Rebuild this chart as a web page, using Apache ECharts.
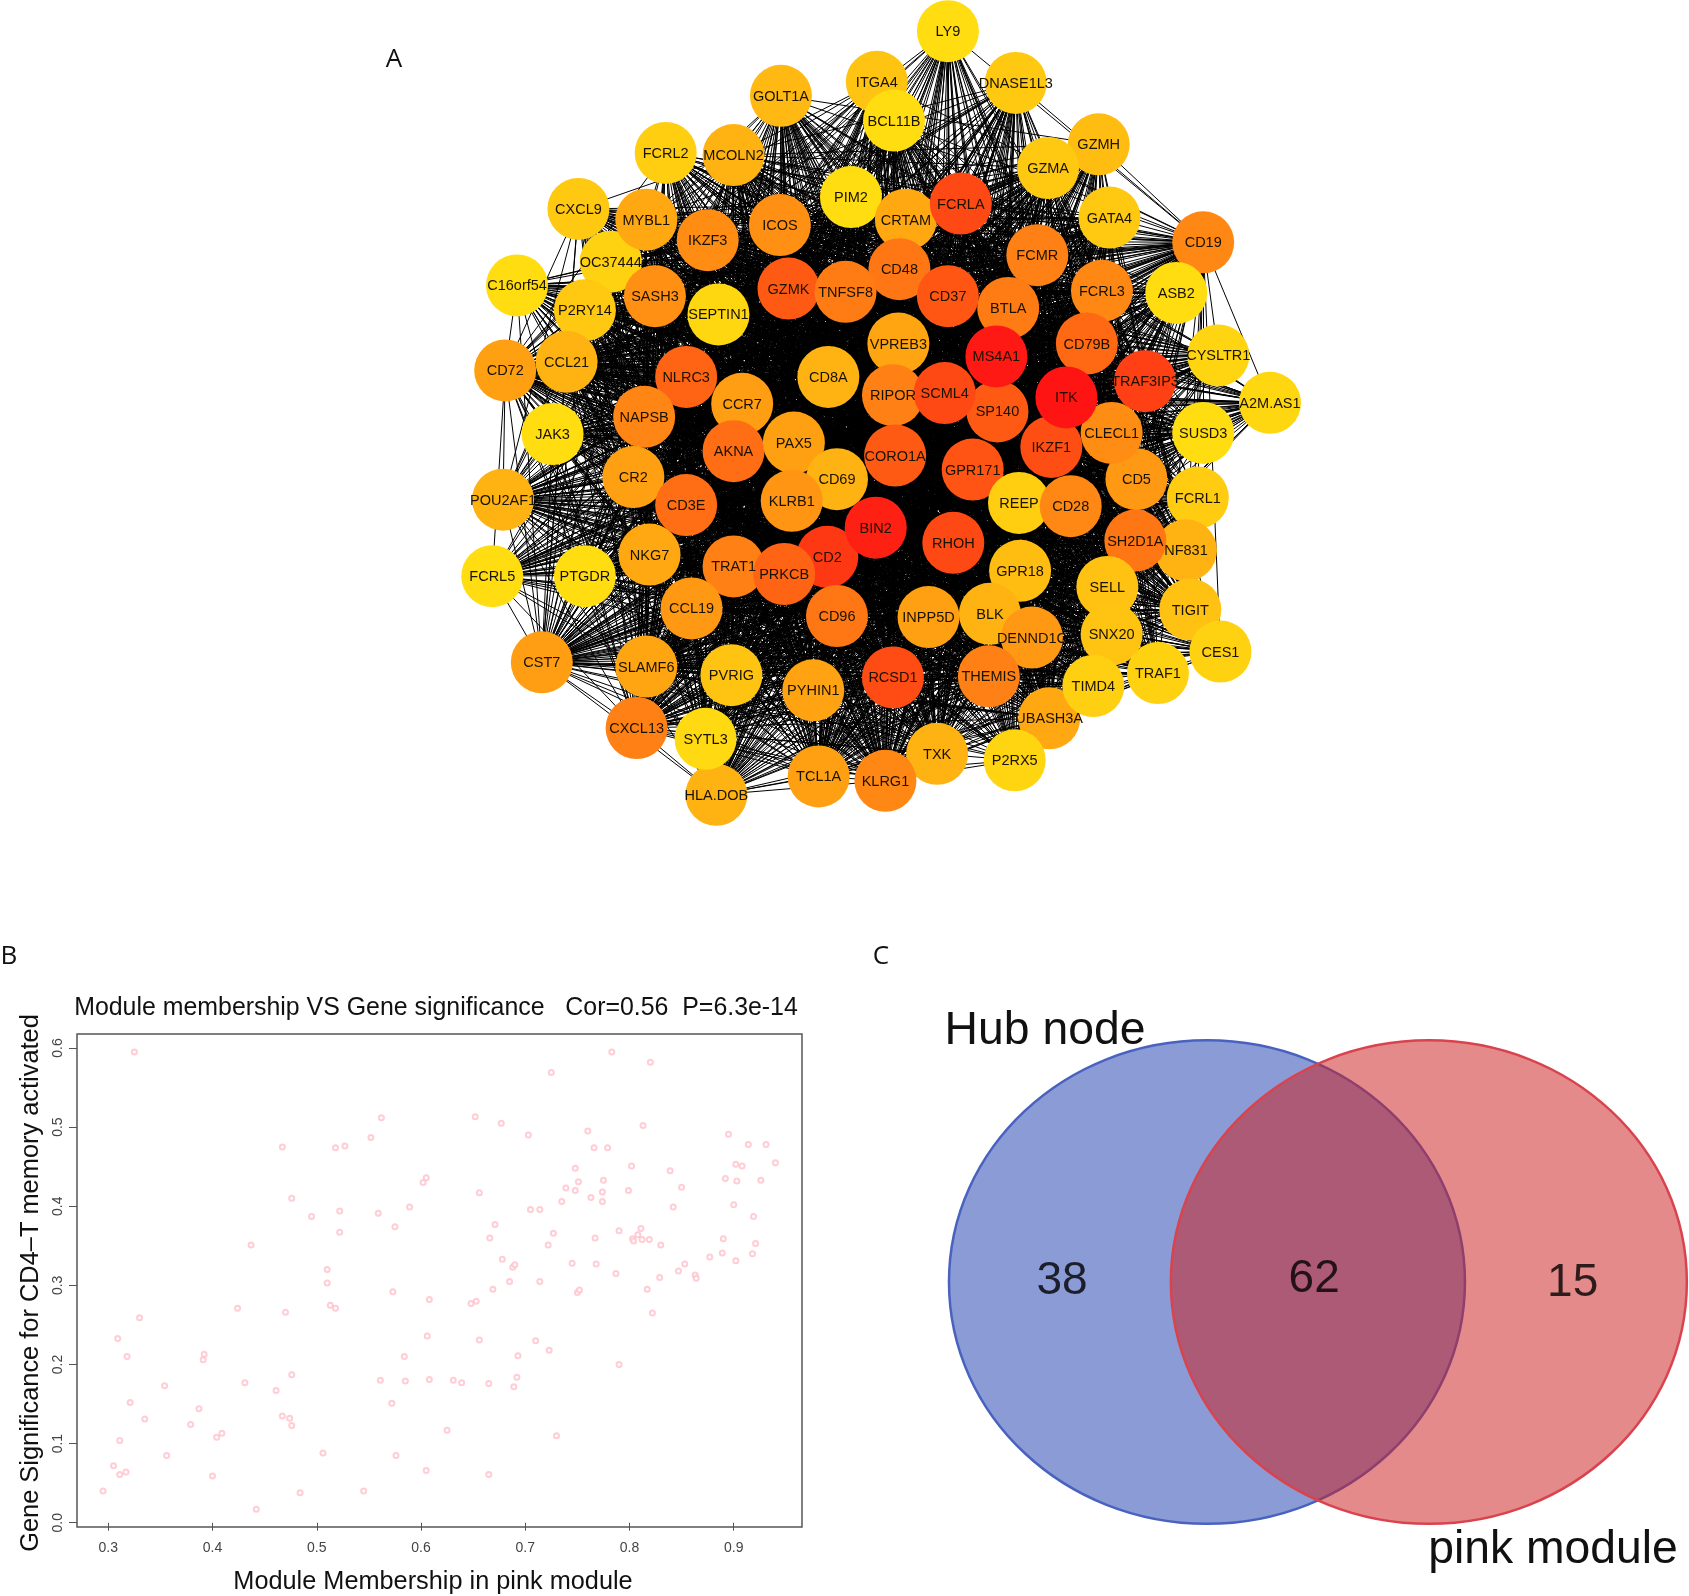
<!DOCTYPE html>
<html>
<head>
<meta charset="UTF-8">
<title>Hub genes of the pink module</title>
<script src="https://cdn.jsdelivr.net/npm/echarts@6/dist/echarts.min.js"></script>
<style>
html, body { margin: 0; padding: 0; background: #fff; }
#chart { width: 1689px; height: 1596px; }
</style>
</head>
<body>
<div id="chart"></div>
<script>
// A: network nodes, in drawing order (later nodes cover earlier ones)
// labels are as visible in the figure, some are cut off by neighbouring nodes
var geneNames = ['LY9','ITGA4','DNASE1L3','GOLT1A','BCL11B','GZMH','FCRL2','MCOLN2','GZMA','PIM2','CRTAM','FCRLA','CXCL9','LOC','GATA4','ICOS','MYBL1','IKZF3','CD19','FCMR','CD48','C16orf54','GZMK','TNFSF8','CD37','ASB2','FCRL3','SASH3','BTLA','P2RY14','SEPTIN1','VPREB3','CD79B','CYSLTR1','CCL21','CD72','NLRC3','CD8A','TRAF3IP3','RIPOR','SP140','SCML4','MS4A1','A2M.AS1','CCR7','NAPSB','JAK3','CD5','CLECL1','SUSD3','AKNA','PAX5','IKZF1','ITK','CORO1A','GPR171','CR2','CD69','FCRL1','POU2AF1','KLRB1','REEP','CD3E','CD28','RHOH','NF831','SH2D1A','NKG7','TRAT1','CD2','PRKCB','BIN2','FCRL5','PTGDR','GPR18','SELL','CCL19','TIGIT','INPP5D','CD96','BLK','DENND1C','SNX20','TRAF1','CES1','CST7','SLAMF6','PVRIG','THEMIS','RCSD1','UBASH3A','TIMD4','PYHIN1','CXCL13','HLA.DOB','SYTL3','TXK','P2RX5','TCL1A','KLRG1'];
var geneX = [880,814,943,725,830,1020,618,681,973,790,841,892,537,567,1030,724,600,657,1117,963,835,480,732,785,880,1092,1023,608,936,543,667,834,1009,1131,526,469,637,769,1063,829,926,877,925,1179,689,598,513,1055,1032,1117,681,737,976,990,831,903,588,777,1112,467,735,946,637,994,885,1101,1054,603,681,768,728,813,457,543,947,1028,642,1105,862,777,919,958,1032,1075,1133,503,600,679,918,829,974,1015,755,591,665,655,870,942,760,822];
var geneY = [29,76,77,89,112,134,142,144,156,183,204,189,194,243,202,209,204,223,225,237,250,265,268,271,275,272,270,275,286,288,292,319,319,330,336,344,350,350,354,367,382,365,331,374,375,387,403,445,402,402,419,411,415,369,423,436,443,445,462,464,465,467,469,470,504,511,502,515,526,517,533,490,535,535,530,545,565,566,573,572,570,592,589,625,605,615,619,627,628,629,667,637,641,676,738,686,700,706,721,725];
// score: 0 = yellow, 1 = red
var geneScore = [0,0.12,0.1,0.17,0,0.15,0.07,0.2,0.1,0,0.25,0.78,0.1,0.05,0.1,0.4,0.25,0.42,0.45,0.5,0.55,0,0.7,0.52,0.72,0,0.45,0.4,0.52,0.1,0.03,0.27,0.62,0.04,0.2,0.3,0.65,0.2,0.82,0.5,0.7,0.78,0.98,0.03,0.32,0.47,0,0.35,0.42,0,0.6,0.3,0.76,1,0.7,0.73,0.3,0.2,0.08,0.2,0.37,0.07,0.6,0.45,0.78,0.2,0.55,0.25,0.5,0.85,0.65,0.95,0,0,0.15,0.13,0.35,0.13,0.3,0.55,0.2,0.35,0.12,0.05,0.05,0.32,0.27,0.12,0.5,0.77,0.25,0.06,0.28,0.5,0.2,0.02,0.2,0.04,0.3,0.45];
var scoreColors = ['#ffdd11', '#ffa812', '#ff8014', '#ff5014', '#ff1414'];
// single edges can't be read in the black mass, so nodes link when their scores add up
var edgeCutoff = 0.3;

// B: scatter
var mmValues = [0.325,0.33,0.309,0.318,0.321,0.335,0.311,0.305,0.311,0.317,0.295,0.356,0.354,0.379,0.387,0.392,0.391,0.404,0.409,0.4,0.424,0.437,0.431,0.442,0.467,0.476,0.495,0.47,0.476,0.461,0.467,0.474,0.476,0.484,0.506,0.51,0.51,0.513,0.518,0.518,0.527,0.522,0.522,0.552,0.562,0.559,0.575,0.589,0.573,0.561,0.572,0.576,0.584,0.585,0.602,0.605,0.656,0.608,0.606,0.608,0.605,0.545,0.625,0.631,0.639,0.648,0.653,0.652,0.677,0.666,0.671,0.678,0.669,0.656,0.665,0.665,0.685,0.688,0.69,0.693,0.692,0.689,0.705,0.714,0.714,0.71,0.703,0.725,0.727,0.722,0.723,0.73,0.735,0.739,0.745,0.748,0.748,0.751,0.75,0.752,0.76,0.766,0.779,0.775,0.774,0.763,0.774,0.767,0.768,0.783,0.787,0.79,0.79,0.799,0.802,0.803,0.804,0.808,0.811,0.812,0.819,0.813,0.82,0.817,0.822,0.829,0.83,0.839,0.842,0.847,0.85,0.853,0.863,0.864,0.877,0.889,0.89,0.892,0.895,0.9,0.902,0.903,0.902,0.908,0.914,0.918,0.919,0.921,0.926,0.931,0.94];
var gsValues = [0.595,0.259,0.233,0.21,0.152,0.131,0.104,0.072,0.061,0.064,0.04,0.085,0.173,0.124,0.144,0.213,0.206,0.108,0.113,0.059,0.271,0.351,0.177,0.017,0.475,0.41,0.387,0.266,0.187,0.167,0.135,0.132,0.123,0.038,0.088,0.32,0.303,0.275,0.271,0.474,0.476,0.394,0.367,0.487,0.512,0.391,0.374,0.399,0.292,0.18,0.151,0.085,0.21,0.179,0.43,0.436,0.417,0.282,0.236,0.181,0.066,0.04,0.117,0.18,0.177,0.277,0.28,0.513,0.505,0.36,0.377,0.333,0.295,0.231,0.176,0.061,0.305,0.323,0.326,0.211,0.184,0.172,0.396,0.396,0.305,0.23,0.49,0.569,0.366,0.351,0.218,0.11,0.406,0.423,0.328,0.448,0.42,0.431,0.291,0.294,0.495,0.474,0.474,0.433,0.418,0.411,0.406,0.36,0.327,0.595,0.315,0.369,0.2,0.42,0.451,0.359,0.356,0.364,0.372,0.358,0.358,0.502,0.582,0.295,0.265,0.31,0.351,0.445,0.399,0.318,0.424,0.327,0.313,0.309,0.336,0.341,0.359,0.435,0.491,0.402,0.453,0.432,0.331,0.451,0.478,0.34,0.387,0.353,0.433,0.478,0.455];
var xTicks = [0.3, 0.4, 0.5, 0.6, 0.7, 0.8, 0.9];
var yTicks = [0, 0.1, 0.2, 0.3, 0.4, 0.5, 0.6];

// C: venn
var vennSets = ['Hub node', 'pink module'];
var vennCounts = [38, 62, 15];
var vennCountX = [986, 1220, 1460];
var vennCountY = [1190, 1188, 1192];
var vennCircleX = [1120.5, 1326.5];
var vennCircleY = [1190.5, 1190.5];
var vennRadiusX = [239.5, 239.5];
var vennRadiusY = [224.5, 224.5];
var vennFill = ['rgba(62,88,187,0.6)', 'rgba(205,30,32,0.52)'];
var vennLine = ['#4a62bf', '#d9434e'];

var nodes = geneNames.map(function (name, i) {
    return {
        name: name === 'LOC' ? 'LOC374443' : name,
        value: [geneX[i], geneY[i]],
        itemStyle: { color: echarts.color.lerp(geneScore[i], scoreColors) },
        label: name === 'LOC' ? { formatter: 'OC37444' } : undefined
    };
});

var edges = [];
for (var i = 0; i < geneNames.length; i++) {
    for (var j = i + 1; j < geneNames.length; j++) {
        if (geneScore[i] + geneScore[j] >= edgeCutoff) {
            edges.push({ source: i, target: j });
        }
    }
}

var chart = echarts.init(document.getElementById('chart'));

function caption(text, x, y, size, extra) {
    var style = {
        text: text,
        fill: '#111',
        fontFamily: 'Liberation Sans',
        fontSize: size,
        textAlign: 'center',
        textVerticalAlign: 'middle'
    };
    return Object.assign({ type: 'text', x: x, y: y, style: style, silent: true }, extra || {});
}

function panelLetter(text, x, y) {
    var el = caption(text, x, y, 26);
    el.style.fontFamily = 'Open Sans';
    return el;
}

var option = {
    animation: false,
    backgroundColor: '#fff',
    grid: [
        // layout plane for the network and the venn, same size as the page
        { left: 0, right: 0, top: 0, bottom: 0 },
        { left: 77, top: 1034, width: 725, height: 493, show: true, borderColor: '#555', borderWidth: 1.5, backgroundColor: 'transparent' }
    ],
    xAxis: [
        { gridIndex: 0, type: 'value', min: 0, max: 1568, show: false },
        {
            gridIndex: 1, type: 'value', min: 0.27, max: 0.9655,
            splitLine: { show: false },
            axisLine: { show: false },
            axisTick: { length: 8, customValues: xTicks, lineStyle: { color: '#555' } },
            axisLabel: { customValues: xTicks, color: '#444', fontSize: 14, margin: 14, fontFamily: 'Liberation Sans',
                formatter: function (v) { return v.toFixed(1); } }
        }
    ],
    yAxis: [
        { gridIndex: 0, type: 'value', min: 0, max: 1482, inverse: true, show: false },
        {
            gridIndex: 1, type: 'value', min: -0.0054, max: 0.6177,
            splitLine: { show: false },
            axisLine: { show: false },
            axisTick: { length: 8, customValues: yTicks, lineStyle: { color: '#555' } },
            axisLabel: { customValues: yTicks, color: '#444', fontSize: 14, margin: 12, rotate: 90, fontFamily: 'Liberation Sans',
                formatter: function (v) { return v.toFixed(1); } }
        }
    ],
    series: [
        {
            type: 'graph',
            coordinateSystem: 'cartesian2d',
            xAxisIndex: 0,
            yAxisIndex: 0,
            layout: 'none',
            silent: true,
            symbol: 'circle',
            symbolSize: 62,
            data: nodes,
            links: edges,
            lineStyle: { color: '#000', width: 1, opacity: 1, curveness: 0 },
            label: { show: true, position: 'inside', offset: [0, 1], color: '#1a1200', fontSize: 14.5, fontFamily: 'Liberation Sans' }
        },
        {
            type: 'scatter',
            xAxisIndex: 1,
            yAxisIndex: 1,
            silent: true,
            symbol: 'emptyCircle',
            symbolSize: 5,
            itemStyle: { color: '#ffc0cb', borderColor: '#ffc0cb', borderWidth: 0.9 },
            data: mmValues.map(function (v, i) { return [v, gsValues[i]]; })
        },
        {
            type: 'custom',
            xAxisIndex: 0,
            yAxisIndex: 0,
            silent: true,
            data: vennSets.map(function (s, i) {
                return [vennCircleX[i], vennCircleY[i], vennRadiusX[i], vennRadiusY[i]];
            }),
            renderItem: function (params, api) {
                var c = api.coord([api.value(0), api.value(1)]);
                var s = api.size([api.value(2), api.value(3)]);
                return {
                    type: 'ellipse',
                    shape: { cx: c[0], cy: c[1], rx: s[0], ry: s[1] },
                    style: { fill: vennFill[params.dataIndex], stroke: vennLine[params.dataIndex], lineWidth: 2.5 }
                };
            }
        },
        {
            type: 'scatter',
            xAxisIndex: 0,
            yAxisIndex: 0,
            silent: true,
            symbolSize: 0,
            z: 5,
            data: vennCounts.map(function (n, i) { return [vennCountX[i], vennCountY[i], n]; }),
            label: {
                show: true, position: 'inside', color: '#000', fontSize: 46, fontFamily: 'Liberation Sans',
                formatter: function (p) { return p.value[2]; }
            }
        }
    ],
    graphic: [
        panelLetter('A', 394, 60),
        panelLetter('B', 9, 957),
        panelLetter('C', 881, 957),
        caption('Module membership VS Gene significance   Cor=0.56  P=6.3e-14', 436, 1008, 24.9),
        caption('Gene Significance for CD4\u2013T memory activated', 31, 1283, 25.4, { rotation: Math.PI / 2 }),
        caption('Module Membership in pink module', 433, 1582, 25.3),
        caption(vennSets[0], 1045, 1031, 46.3),
        caption(vennSets[1], 1553, 1550, 46.3)
    ]
};

chart.setOption(option);
</script>
</body>
</html>
